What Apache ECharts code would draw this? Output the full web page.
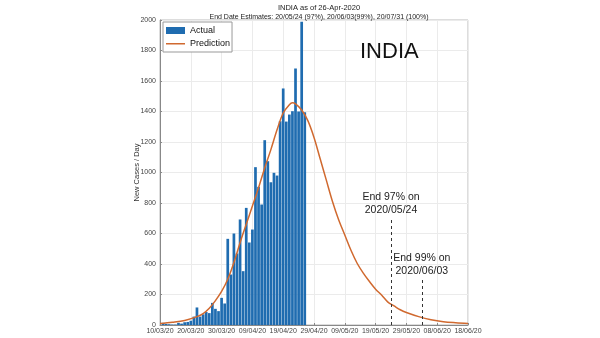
<!DOCTYPE html>
<html>
<head>
<meta charset="utf-8">
<script src="https://cdn.jsdelivr.net/npm/echarts@6/dist/echarts.min.js"></script>
<style>
html,body{margin:0;padding:0;background:#fff;}
#chart{width:600px;height:338px;}
</style>
</head>
<body>
<div id="chart"></div>
<script>
// Tick labels for x axis (every 10 days starting 10/03/20)
const xTickLabels = ['10/03/20','20/03/20','30/03/20','09/04/20','19/04/20','29/04/20','09/05/20','19/05/20','29/05/20','08/06/20','18/06/20'];
// Actual daily new cases: day offsets from 10/03/20 (11/03 .. 26/04)
const actualFirstDay = 1;
const actualValues = [14, 7, 5, 3, 3, 14, 9, 18, 20, 28, 55, 115, 55, 70, 85, 78, 145, 106, 91, 178, 141,
  565, 331, 600, 469, 692, 353, 768, 541, 626, 1035, 906, 790, 1212, 1074, 936, 998, 980,
  1336, 1551, 1334, 1380, 1402, 1682, 1400, 1988, 1395];
// Prediction curve (day offset from 10/03/20, value)
const predDays = [0,4,8,12,14,16,18,20,22,24,26,28,30,32,34,36,38,40,42,43,44,46,48,50,52,54,56,58,60,62,64,66,68,70,72,74,76,78,80,84,88,92,96,100];
const predValues = [10,18,30,55,75,110,160,220,300,410,540,660,780,900,1030,1150,1280,1390,1445,1457,1450,1410,1340,1230,1090,950,810,690,590,490,405,340,285,235,195,150,125,100,82,55,35,22,15,10];
// Annotations
const endDays = [75, 85];
const endLineTops = [700, 300];
const endLabels = ['End 97% on\n2020/05/24', 'End 99% on\n2020/06/03'];

const barData = actualValues.map((v, i) => [actualFirstDay + i, v]);
const lineData = predDays.map((d, i) => [d, predValues[i]]);
const markData = endDays.map((d, i) => [
  {coord: [d, 0]},
  {coord: [d, endLineTops[i]], label: {formatter: endLabels[i]}}
]);

const FONT = 'Liberation Sans, Arial, sans-serif';
const ORANGE = '#d0692f';
const chart = echarts.init(document.getElementById('chart'), null, {renderer: 'canvas'});
chart.setOption({
  backgroundColor: '#fff',
  animation: false,
  title: {
    text: 'INDIA as of 26-Apr-2020',
    subtext: 'End Date Estimates: 20/05/24 (97%), 20/06/03(99%), 20/07/31 (100%)',
    left: 314, top: -1, textAlign: 'center',
    itemGap: 2,
    textStyle: {fontFamily: FONT, fontSize: 7.5, fontWeight: 'normal', color: '#222'},
    subtextStyle: {fontFamily: FONT, fontSize: 7, color: '#222'}
  },
  graphic: [{
    type: 'text', left: 360, top: 41, z: 100,
    style: {text: 'INDIA', font: '22px ' + FONT, fill: '#111'}
  }],
  legend: {
    orient: 'vertical', left: 163, top: 22,
    padding: [4, 2, 4, 3], itemGap: 4, itemWidth: 19, itemHeight: 7,
    borderColor: '#999', borderWidth: 1, backgroundColor: '#fff',
    textStyle: {fontFamily: FONT, fontSize: 9, color: '#111'},
    data: [
      {name: 'Actual', icon: 'rect'},
      {name: 'Prediction', icon: 'path://M0,0h0.1v0.1h-0.1zM0,3h20v1.5h-20zM0,6.9h0.1v0.1h-0.1z', itemStyle: {color: ORANGE}}
    ]
  },
  grid: {left: 160, top: 20, right: 132, bottom: 13, show: true, borderColor: '#bbb', borderWidth: 1},
  xAxis: {
    type: 'value', min: 0, max: 100, interval: 10,
    axisLine: {show: true, lineStyle: {color: '#888'}},
    axisTick: {show: true, inside: true, length: 2, lineStyle: {color: '#888'}},
    axisLabel: {fontFamily: FONT, fontSize: 7, color: '#444', margin: 3,
      formatter: v => xTickLabels[Math.round(v / 10)] || ''},
    splitLine: {show: true, lineStyle: {color: '#ebebeb'}}
  },
  yAxis: {
    type: 'value', min: 0, max: 2000, interval: 200,
    name: 'New Cases / Day', nameLocation: 'middle', nameGap: 19, nameMoveOverlap: false,
    nameTextStyle: {fontFamily: FONT, fontSize: 7.5, color: '#333'},
    axisLine: {show: true, lineStyle: {color: '#888'}},
    axisTick: {show: true, inside: true, length: 2, lineStyle: {color: '#888'}},
    axisLabel: {fontFamily: FONT, fontSize: 7, color: '#444', margin: 4, formatter: v => String(v)},
    splitLine: {show: true, lineStyle: {color: '#ebebeb'}}
  },
  series: [{
    name: 'Actual', type: 'bar', data: barData, barWidth: 2.7,
    itemStyle: {color: '#1f6cb0'}
  }, {
    name: 'Prediction', type: 'line', data: lineData, smooth: 0.35,
    symbol: 'none', showSymbol: false,
    lineStyle: {color: ORANGE, width: 1.5}, itemStyle: {color: ORANGE},
    markLine: {
      silent: true, symbol: ['none', 'none'],
      lineStyle: {color: '#333', width: 1, type: [3, 3]},
      label: {show: true, position: 'end', distance: 2, fontFamily: FONT, fontSize: 10.5, color: '#222', lineHeight: 13, align: 'center'},
      data: markData
    }
  }]
});
</script>
</body>
</html>
